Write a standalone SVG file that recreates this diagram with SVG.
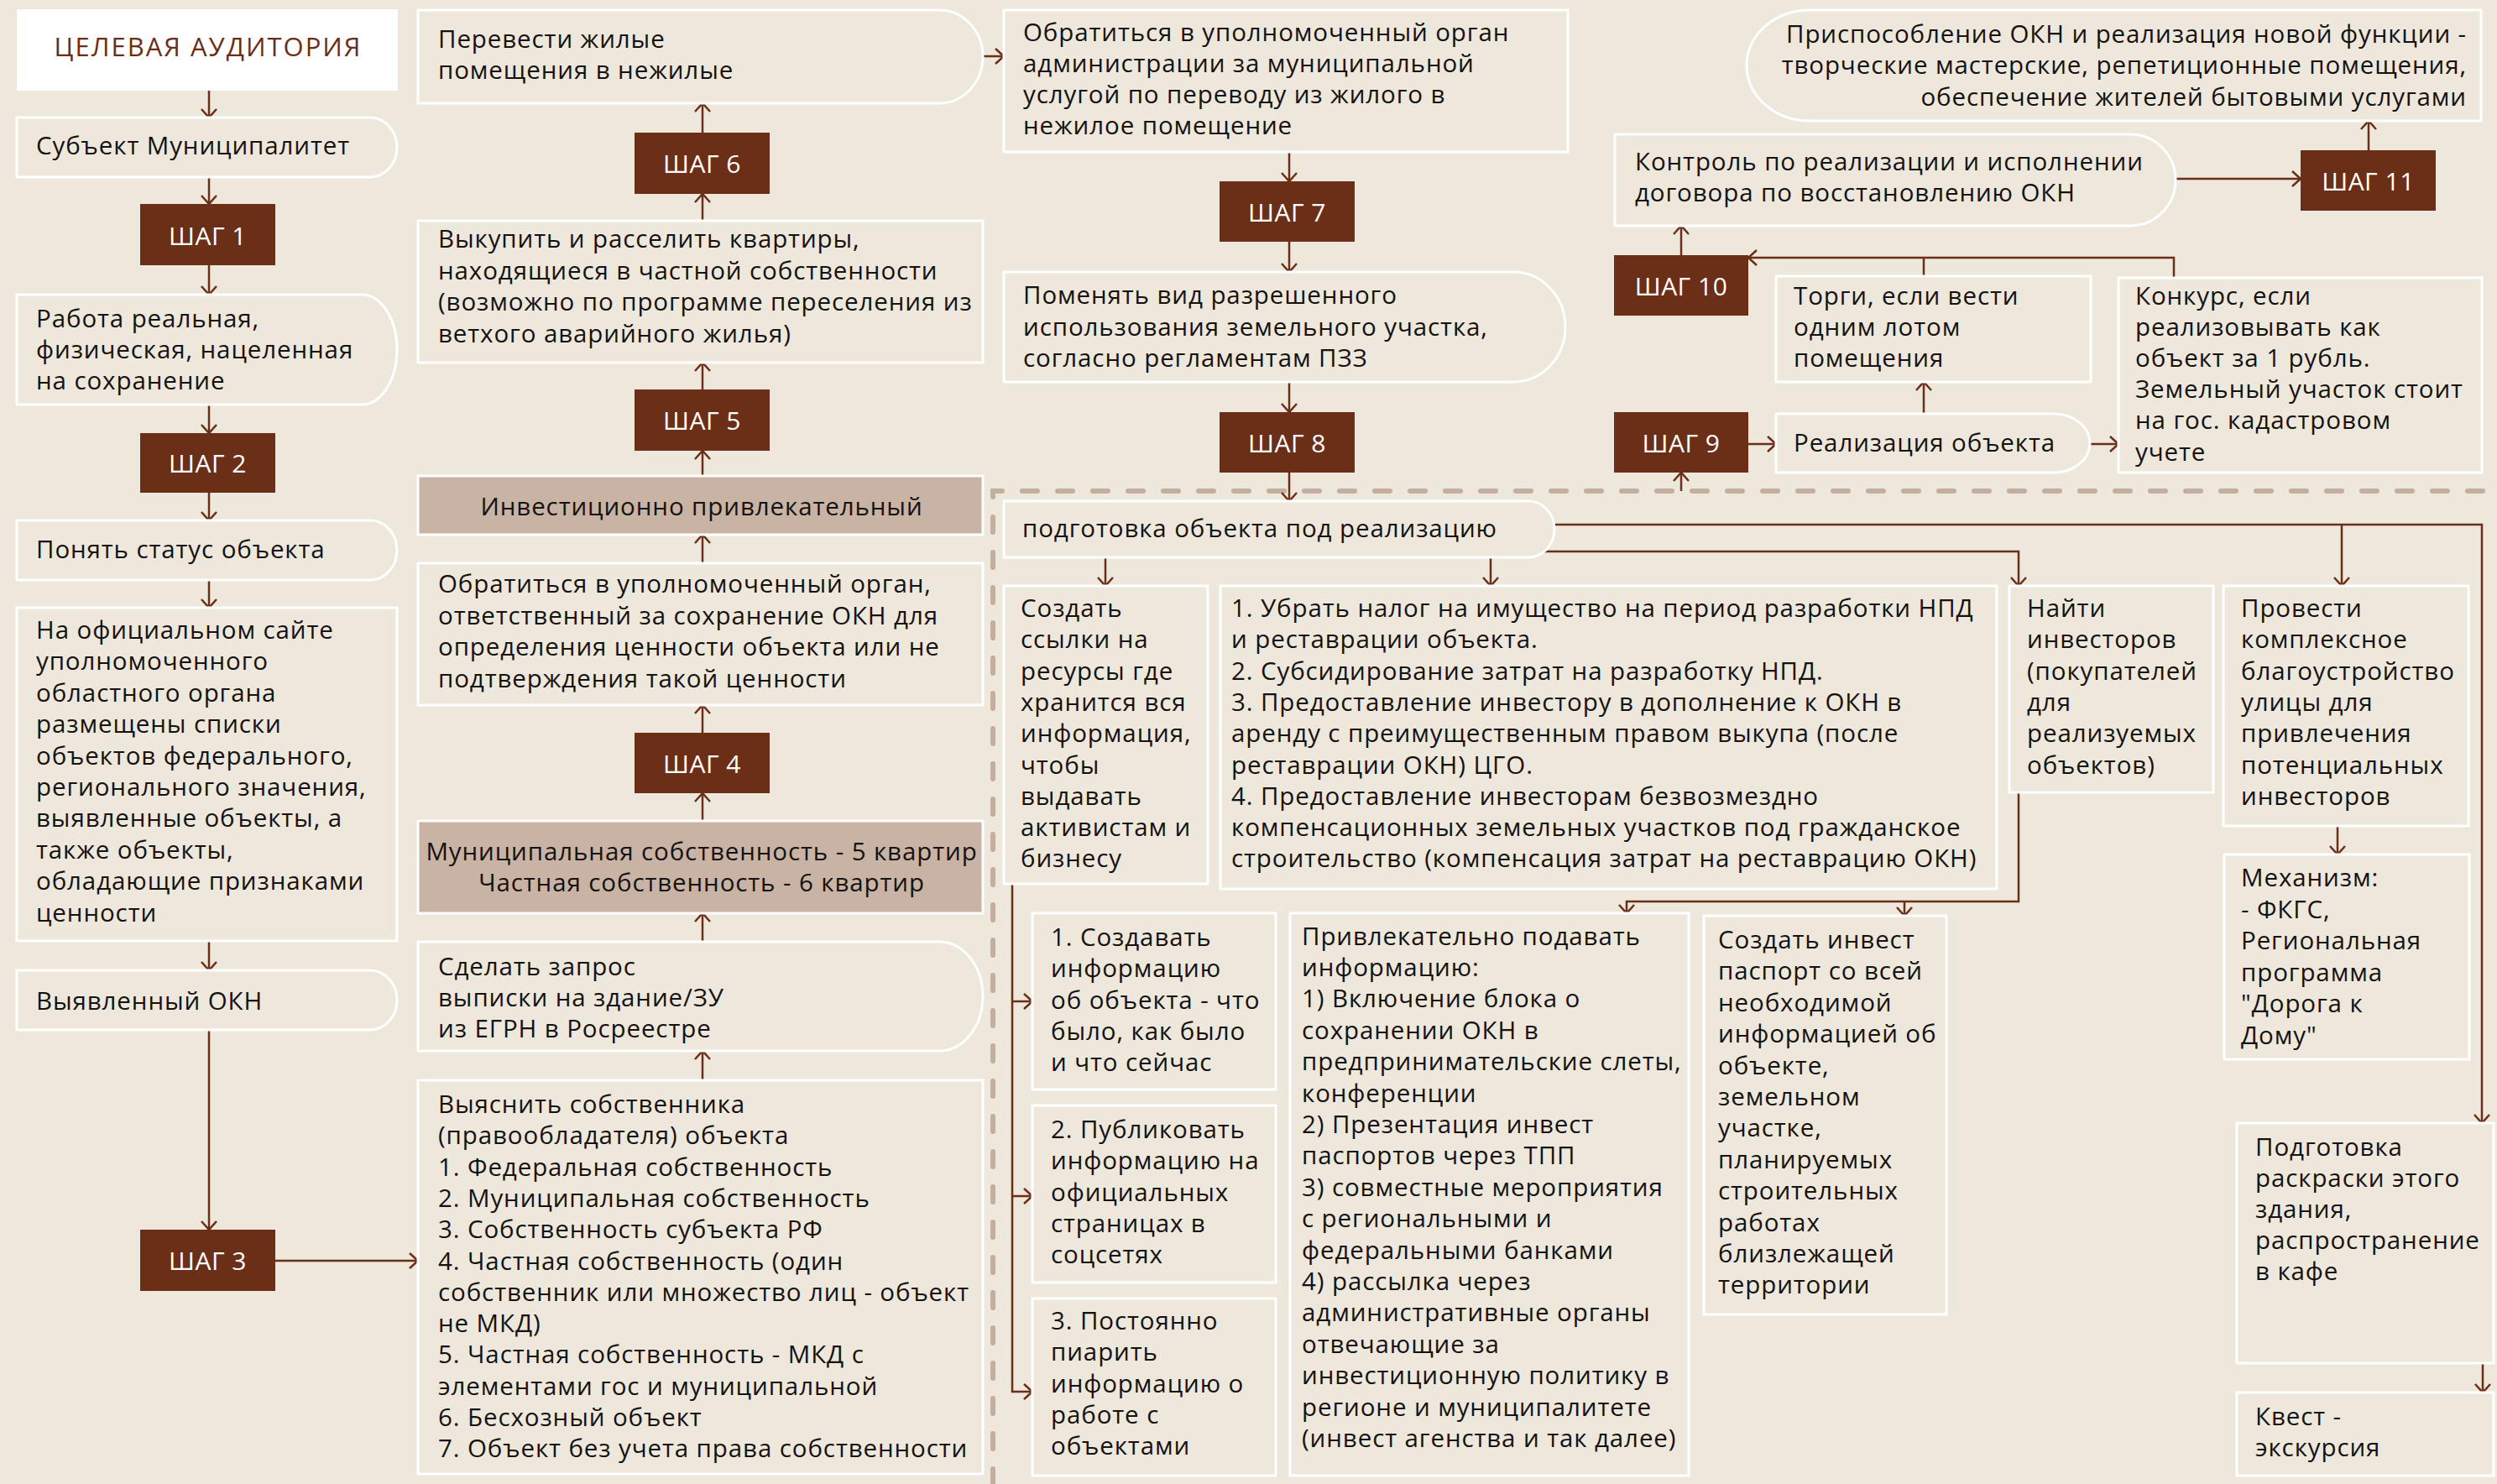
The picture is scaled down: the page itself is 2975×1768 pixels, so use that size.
<svg xmlns="http://www.w3.org/2000/svg" width="2975" height="1768" viewBox="0 0 2975 1768">
<style>
  .bg { fill: #EDE7DC; }
  .box { fill: #EDE7DC; stroke: #FFFFFF; stroke-width: 3; }
  .tan { fill: #C8B3A4; stroke: #FFFFFF; stroke-width: 3; }
  .head { fill: #FFFFFF; }
  .step { fill: #6B2E16; }
  text { font-family: "Open Sans", "Noto Sans", sans-serif; font-size: 29.5px; letter-spacing: 0.9px; fill: #161210; }
  .st { fill: #FFFFFF; font-size: 30px; letter-spacing: 0.5px; text-anchor: middle; }
  .ht { fill: #6B2E16; font-size: 31px; letter-spacing: 2px; text-anchor: middle; }
  .mid { text-anchor: middle; }
  .end { text-anchor: end; }
  .c { fill: none; stroke: #6B2E16; stroke-width: 2.5; }
  .a { marker-end: url(#ah); }
  .dash { fill: none; stroke: #C4AE9E; stroke-width: 6; stroke-dasharray: 18 24; stroke-linecap: round; }
</style>
<defs>
  <marker id="ah" viewBox="0 0 12 20" refX="11" refY="10" markerWidth="12" markerHeight="20" markerUnits="userSpaceOnUse" orient="auto">
    <path d="M1,1 L11,10 L1,19" fill="none" stroke="#6B2E16" stroke-width="2.5"/>
  </marker>
</defs>

<rect class="bg" x="0" y="0" width="2975" height="1768"/>

<!-- dashed frame around the realisation stage -->
<path class="dash" d="M1183,1768 V585 H2975"/>

<!-- connectors -->
<g id="connectors">
  <!-- column 1 -->
  <path class="c a" d="M249,108 V140"/>
  <path class="c a" d="M249,211 V243"/>
  <path class="c a" d="M249,316 V351"/>
  <path class="c a" d="M249,482 V516"/>
  <path class="c a" d="M249,587 V620"/>
  <path class="c a" d="M249,691 V724"/>
  <path class="c a" d="M249,1121 V1156"/>
  <path class="c a" d="M249,1227 V1465"/>
  <path class="c a" d="M328,1502 H498"/>
  <!-- column 2 (upwards) -->
  <path class="c a" d="M837,1287 V1252"/>
  <path class="c a" d="M837,1122 V1088"/>
  <path class="c a" d="M837,978 V945"/>
  <path class="c a" d="M837,873 V840"/>
  <path class="c a" d="M837,671 V637"/>
  <path class="c a" d="M837,567 V537"/>
  <path class="c a" d="M837,464 V432"/>
  <path class="c a" d="M837,263 V231"/>
  <path class="c a" d="M837,158 V123"/>
  <path class="c a" d="M1171,67 H1196"/>
  <!-- column 3 -->
  <path class="c a" d="M1536,181 V216"/>
  <path class="c a" d="M1536,288 V324"/>
  <path class="c a" d="M1536,455 V491"/>
  <path class="c a" d="M1536,563 V597"/>
  <!-- column 4 -->
  <path class="c a" d="M2003,585 V563"/>
  <path class="c a" d="M2083,529 H2116"/>
  <path class="c a" d="M2490,529 H2524"/>
  <path class="c a" d="M2292,493 V455"/>
  <path class="c a" d="M2590,331 V307 H2083"/>
  <path class="c" d="M2292,329 V307"/>
  <path class="c a" d="M2003,304 V269"/>
  <path class="c a" d="M2592,213 H2741"/>
  <path class="c a" d="M2822,179 V144"/>
  <!-- object preparation -->
  <path class="c a" d="M1317,664 V698"/>
  <path class="c a" d="M1776,664 V698"/>
  <path class="c a" d="M1852,625 H2957 V1338"/>
  <path class="c a" d="M2790,625 V698"/>
  <path class="c a" d="M1838,657 H2405 V698"/>
  <path class="c a" d="M2405,944 V1074 H1938 V1088"/>
  <path class="c a" d="M2269,1074 V1091"/>
  <path class="c a" d="M2785,984 V1018"/>
  <path class="c a" d="M2958,1624 V1659"/>
  <path class="c a" d="M1206,1053 V1658 H1230"/>
  <path class="c a" d="M1206,1193 H1230"/>
  <path class="c a" d="M1206,1425 H1230"/>
</g>

<!-- column 1 -->
<g id="n-audience">
  <rect class="head" x="20" y="11" width="454" height="97"/>
  <text class="ht" x="248" y="67">ЦЕЛЕВАЯ АУДИТОРИЯ</text>
</g>
<g id="n-subject">
  <path class="box" d="M20,140 H441 A32,35.5 0 0 1 473,175.5 A32,35.5 0 0 1 441,211 H20 Z"/>
  <text x="43" y="184">Субъект Муниципалитет</text>
</g>
<g id="n-step1">
  <rect class="step" x="167" y="243" width="161" height="73"/>
  <text class="st" x="247.5" y="292">ШАГ 1</text>
</g>
<g id="n-work">
  <path class="box" d="M20,351 H431 A42,65.5 0 0 1 473,416.5 A42,65.5 0 0 1 431,482 H20 Z"/>
  <text x="43" y="390">Работа реальная,<tspan x="43" dy="37">физическая, нацеленная</tspan><tspan x="43" dy="37">на сохранение</tspan></text>
</g>
<g id="n-step2">
  <rect class="step" x="167" y="516" width="161" height="71"/>
  <text class="st" x="247.5" y="563">ШАГ 2</text>
</g>
<g id="n-status">
  <path class="box" d="M20,620 H441 A32,35.5 0 0 1 473,655.5 A32,35.5 0 0 1 441,691 H20 Z"/>
  <text x="43" y="665">Понять статус объекта</text>
</g>
<g id="n-site">
  <rect class="box" x="20" y="724" width="453" height="397"/>
  <text x="43" y="761">На официальном сайте<tspan x="43" dy="37.4">уполномоченного</tspan><tspan x="43" dy="37.4">областного органа</tspan><tspan x="43" dy="37.4">размещены списки</tspan><tspan x="43" dy="37.4">объектов федерального,</tspan><tspan x="43" dy="37.4">регионального значения,</tspan><tspan x="43" dy="37.4">выявленные объекты, а</tspan><tspan x="43" dy="37.4">также объекты,</tspan><tspan x="43" dy="37.4">обладающие признаками</tspan><tspan x="43" dy="37.4">ценности</tspan></text>
</g>
<g id="n-found">
  <path class="box" d="M20,1156 H441 A32,35.5 0 0 1 473,1191.5 A32,35.5 0 0 1 441,1227 H20 Z"/>
  <text x="43" y="1203">Выявленный ОКН</text>
</g>
<g id="n-step3">
  <rect class="step" x="167" y="1465" width="161" height="73"/>
  <text class="st" x="247.5" y="1513">ШАГ 3</text>
</g>

<!-- column 2 -->
<g id="n-convert">
  <path class="box" d="M498,12 H1119 A52,55.5 0 0 1 1171,67.5 A52,55.5 0 0 1 1119,123 H498 Z"/>
  <text x="522" y="57">Перевести жилые<tspan x="522" dy="37">помещения в нежилые</tspan></text>
</g>
<g id="n-step6">
  <rect class="step" x="756" y="158" width="161" height="73"/>
  <text class="st" x="836.5" y="206">ШАГ 6</text>
</g>
<g id="n-buyout">
  <rect class="box" x="498" y="263" width="673" height="169"/>
  <text x="522" y="295">Выкупить и расселить квартиры,<tspan x="522" dy="37.6">находящиеся в частной собственности</tspan><tspan x="522" dy="37.6">(возможно по программе переселения из</tspan><tspan x="522" dy="37.6">ветхого аварийного жилья)</tspan></text>
</g>
<g id="n-step5">
  <rect class="step" x="756" y="464" width="161" height="73"/>
  <text class="st" x="836.5" y="512">ШАГ 5</text>
</g>
<g id="n-invest">
  <rect class="tan" x="498" y="567" width="673" height="70"/>
  <text class="mid" x="836" y="614">Инвестиционно привлекательный</text>
</g>
<g id="n-authority">
  <rect class="box" x="498" y="671" width="673" height="169"/>
  <text x="522" y="706">Обратиться в уполномоченный орган,<tspan x="522" dy="37.7">ответственный за сохранение ОКН для</tspan><tspan x="522" dy="37.7">определения ценности объекта или не</tspan><tspan x="522" dy="37.7">подтверждения такой ценности</tspan></text>
</g>
<g id="n-step4">
  <rect class="step" x="756" y="873" width="161" height="72"/>
  <text class="st" x="836.5" y="921">ШАГ 4</text>
</g>
<g id="n-ownership">
  <rect class="tan" x="498" y="978" width="673" height="110"/>
  <text class="mid" x="836" y="1025">Муниципальная собственность - 5 квартир<tspan x="836" dy="36.5">Частная собственность - 6 квартир</tspan></text>
</g>
<g id="n-request">
  <path class="box" d="M498,1122 H1119 A52,65 0 0 1 1171,1187 A52,65 0 0 1 1119,1252 H498 Z"/>
  <text x="522" y="1162">Сделать запрос<tspan x="522" dy="37">выписки на здание/ЗУ</tspan><tspan x="522" dy="37">из ЕГРН в Росреестре</tspan></text>
</g>
<g id="n-owner">
  <rect class="box" x="498" y="1287" width="673" height="469"/>
  <text x="522" y="1326">Выяснить собственника<tspan x="522" dy="37.3">(правообладателя) объекта</tspan><tspan x="522" dy="37.3">1. Федеральная собственность</tspan><tspan x="522" dy="37.3">2. Муниципальная собственность</tspan><tspan x="522" dy="37.3">3. Собственность субъекта РФ</tspan><tspan x="522" dy="37.3">4. Частная собственность (один</tspan><tspan x="522" dy="37.3">собственник или множество лиц - объект</tspan><tspan x="522" dy="37.3">не МКД)</tspan><tspan x="522" dy="37.3">5. Частная собственность - МКД с</tspan><tspan x="522" dy="37.3">элементами гос и муниципальной</tspan><tspan x="522" dy="37.3">6. Бесхозный объект</tspan><tspan x="522" dy="37.3">7. Объект без учета права собственности</tspan></text>
</g>

<!-- column 3 -->
<g id="n-admin">
  <rect class="box" x="1196" y="12" width="672" height="169"/>
  <text x="1219" y="49">Обратиться в уполномоченный орган<tspan x="1219" dy="37">администрации за муниципальной</tspan><tspan x="1219" dy="37">услугой по переводу из жилого в</tspan><tspan x="1219" dy="37">нежилое помещение</tspan></text>
</g>
<g id="n-step7">
  <rect class="step" x="1453" y="216" width="161" height="72"/>
  <text class="st" x="1533.5" y="264">ШАГ 7</text>
</g>
<g id="n-landuse">
  <path class="box" d="M1196,324 H1803 A62,65.5 0 0 1 1865,389.5 A62,65.5 0 0 1 1803,455 H1196 Z"/>
  <text x="1219" y="362">Поменять вид разрешенного<tspan x="1219" dy="37.5">использования земельного участка,</tspan><tspan x="1219" dy="37.5">согласно регламентам ПЗЗ</tspan></text>
</g>
<g id="n-step8">
  <rect class="step" x="1453" y="491" width="161" height="72"/>
  <text class="st" x="1533.5" y="539">ШАГ 8</text>
</g>
<g id="n-prep">
  <path class="box" d="M1196,597 H1821 A31,33.5 0 0 1 1852,630.5 A31,33.5 0 0 1 1821,664 H1196 Z"/>
  <text x="1218" y="640">подготовка объекта под реализацию</text>
</g>
<g id="n-links">
  <rect class="box" x="1196" y="698" width="243" height="355"/>
  <text x="1216" y="735">Создать<tspan x="1216" dy="37.3">ссылки на</tspan><tspan x="1216" dy="37.3">ресурсы где</tspan><tspan x="1216" dy="37.3">хранится вся</tspan><tspan x="1216" dy="37.3">информация,</tspan><tspan x="1216" dy="37.3">чтобы</tspan><tspan x="1216" dy="37.3">выдавать</tspan><tspan x="1216" dy="37.3">активистам и</tspan><tspan x="1216" dy="37.3">бизнесу</tspan></text>
</g>
<g id="n-measures">
  <rect class="box" x="1454" y="698" width="925" height="361"/>
  <text x="1467" y="735">1. Убрать налог на имущество на период разработки НПД<tspan x="1467" dy="37.3">и реставрации объекта.</tspan><tspan x="1467" dy="37.3">2. Субсидирование затрат на разработку НПД.</tspan><tspan x="1467" dy="37.3">3. Предоставление инвестору в дополнение к ОКН в</tspan><tspan x="1467" dy="37.3">аренду с преимущественным правом выкупа (после</tspan><tspan x="1467" dy="37.3">реставрации ОКН) ЦГО.</tspan><tspan x="1467" dy="37.3">4. Предоставление инвесторам безвозмездно</tspan><tspan x="1467" dy="37.3">компенсационных земельных участков под гражданское</tspan><tspan x="1467" dy="37.3">строительство (компенсация затрат на реставрацию ОКН)</tspan></text>
</g>
<g id="n-investors">
  <rect class="box" x="2394" y="698" width="243" height="246"/>
  <text x="2415" y="735">Найти<tspan x="2415" dy="37.3">инвесторов</tspan><tspan x="2415" dy="37.3">(покупателей</tspan><tspan x="2415" dy="37.3">для</tspan><tspan x="2415" dy="37.3">реализуемых</tspan><tspan x="2415" dy="37.3">объектов)</tspan></text>
</g>
<g id="n-street">
  <rect class="box" x="2649" y="698" width="292" height="286"/>
  <text x="2670" y="735">Провести<tspan x="2670" dy="37.3">комплексное</tspan><tspan x="2670" dy="37.3">благоустройство</tspan><tspan x="2670" dy="37.3">улицы для</tspan><tspan x="2670" dy="37.3">привлечения</tspan><tspan x="2670" dy="37.3">потенциальных</tspan><tspan x="2670" dy="37.3">инвесторов</tspan></text>
</g>
<g id="n-mechanism">
  <rect class="box" x="2650" y="1018" width="292" height="244"/>
  <text x="2670" y="1056">Механизм:<tspan x="2670" dy="37.5">- ФКГС,</tspan><tspan x="2670" dy="37.5">Региональная</tspan><tspan x="2670" dy="37.5">программа</tspan><tspan x="2670" dy="37.5">"Дорога к</tspan><tspan x="2670" dy="37.5">Дому"</tspan></text>
</g>
<g id="n-create-info">
  <rect class="box" x="1230" y="1088" width="290" height="210"/>
  <text x="1252" y="1127">1. Создавать<tspan x="1252" dy="37.3">информацию</tspan><tspan x="1252" dy="37.3">об объекта - что</tspan><tspan x="1252" dy="37.3">было, как было</tspan><tspan x="1252" dy="37.3">и что сейчас</tspan></text>
</g>
<g id="n-publish">
  <rect class="box" x="1230" y="1317" width="290" height="211"/>
  <text x="1252" y="1356">2. Публиковать<tspan x="1252" dy="37.3">информацию на</tspan><tspan x="1252" dy="37.3">официальных</tspan><tspan x="1252" dy="37.3">страницах в</tspan><tspan x="1252" dy="37.3">соцсетях</tspan></text>
</g>
<g id="n-pr">
  <rect class="box" x="1230" y="1547" width="290" height="211"/>
  <text x="1252" y="1584">3. Постоянно<tspan x="1252" dy="37.3">пиарить</tspan><tspan x="1252" dy="37.3">информацию о</tspan><tspan x="1252" dy="37.3">работе с</tspan><tspan x="1252" dy="37.3">объектами</tspan></text>
</g>
<g id="n-present">
  <rect class="box" x="1537" y="1088" width="475" height="670"/>
  <text x="1551" y="1125.5">Привлекательно подавать<tspan x="1551" dy="37.4">информацию:</tspan><tspan x="1551" dy="37.4">1) Включение блока о</tspan><tspan x="1551" dy="37.4">сохранении ОКН в</tspan><tspan x="1551" dy="37.4">предпринимательские слеты,</tspan><tspan x="1551" dy="37.4">конференции</tspan><tspan x="1551" dy="37.4">2) Презентация инвест</tspan><tspan x="1551" dy="37.4">паспортов через ТПП</tspan><tspan x="1551" dy="37.4">3) совместные мероприятия</tspan><tspan x="1551" dy="37.4">с региональными и</tspan><tspan x="1551" dy="37.4">федеральными банками</tspan><tspan x="1551" dy="37.4">4) рассылка через</tspan><tspan x="1551" dy="37.4">административные органы</tspan><tspan x="1551" dy="37.4">отвечающие за</tspan><tspan x="1551" dy="37.4">инвестиционную политику в</tspan><tspan x="1551" dy="37.4">регионе и муниципалитете</tspan><tspan x="1551" dy="37.4">(инвест агенства и так далее)</tspan></text>
</g>
<g id="n-passport">
  <rect class="box" x="2030" y="1091" width="289" height="475"/>
  <text x="2047" y="1130">Создать инвест<tspan x="2047" dy="37.4">паспорт со всей</tspan><tspan x="2047" dy="37.4">необходимой</tspan><tspan x="2047" dy="37.4">информацией об</tspan><tspan x="2047" dy="37.4">объекте,</tspan><tspan x="2047" dy="37.4">земельном</tspan><tspan x="2047" dy="37.4">участке,</tspan><tspan x="2047" dy="37.4">планируемых</tspan><tspan x="2047" dy="37.4">строительных</tspan><tspan x="2047" dy="37.4">работах</tspan><tspan x="2047" dy="37.4">близлежащей</tspan><tspan x="2047" dy="37.4">территории</tspan></text>
</g>
<g id="n-colouring">
  <rect class="box" x="2665" y="1338" width="306" height="286"/>
  <text x="2687" y="1377">Подготовка<tspan x="2687" dy="37">раскраски этого</tspan><tspan x="2687" dy="37">здания,</tspan><tspan x="2687" dy="37">распространение</tspan><tspan x="2687" dy="37">в кафе</tspan></text>
</g>
<g id="n-quest">
  <rect class="box" x="2665" y="1659" width="306" height="99"/>
  <text x="2687" y="1698">Квест -<tspan x="2687" dy="37">экскурсия</tspan></text>
</g>

<!-- column 4 -->
<g id="n-adapt">
  <path class="box" d="M2956,12 V144 H2156 A75,66 0 0 1 2081,78 A75,66 0 0 1 2156,12 Z"/>
  <text class="end" x="2939" y="50.5">Приспособление ОКН и реализация новой функции -<tspan x="2939" dy="37.5">творческие мастерские, репетиционные помещения,</tspan><tspan x="2939" dy="37.5">обеспечение жителей бытовыми услугами</tspan></text>
</g>
<g id="n-control">
  <path class="box" d="M1924,160 H2538 A54,54.5 0 0 1 2592,214.5 A54,54.5 0 0 1 2538,269 H1924 Z"/>
  <text x="1948" y="203">Контроль по реализации и исполнении<tspan x="1948" dy="37">договора по восстановлению ОКН</tspan></text>
</g>
<g id="n-step11">
  <rect class="step" x="2741" y="179" width="161" height="72"/>
  <text class="st" x="2821.5" y="227">ШАГ 11</text>
</g>
<g id="n-step10">
  <rect class="step" x="1923" y="304" width="160" height="72"/>
  <text class="st" x="2003" y="352">ШАГ 10</text>
</g>
<g id="n-auction">
  <rect class="box" x="2116" y="329" width="375" height="126"/>
  <text x="2137" y="363">Торги, если вести<tspan x="2137" dy="37">одним лотом</tspan><tspan x="2137" dy="37">помещения</tspan></text>
</g>
<g id="n-contest">
  <rect class="box" x="2524" y="331" width="433" height="232"/>
  <text x="2544" y="363">Конкурс, если<tspan x="2544" dy="37.1">реализовывать как</tspan><tspan x="2544" dy="37.1">объект за 1 рубль.</tspan><tspan x="2544" dy="37.1">Земельный участок стоит</tspan><tspan x="2544" dy="37.1">на гос. кадастровом</tspan><tspan x="2544" dy="37.1">учете</tspan></text>
</g>
<g id="n-step9">
  <rect class="step" x="1923" y="491" width="160" height="72"/>
  <text class="st" x="2003" y="539">ШАГ 9</text>
</g>
<g id="n-sale">
  <path class="box" d="M2116,493 H2447 A43,35 0 0 1 2490,528 A43,35 0 0 1 2447,563 H2116 Z"/>
  <text x="2137" y="538">Реализация объекта</text>
</g>
</svg>
